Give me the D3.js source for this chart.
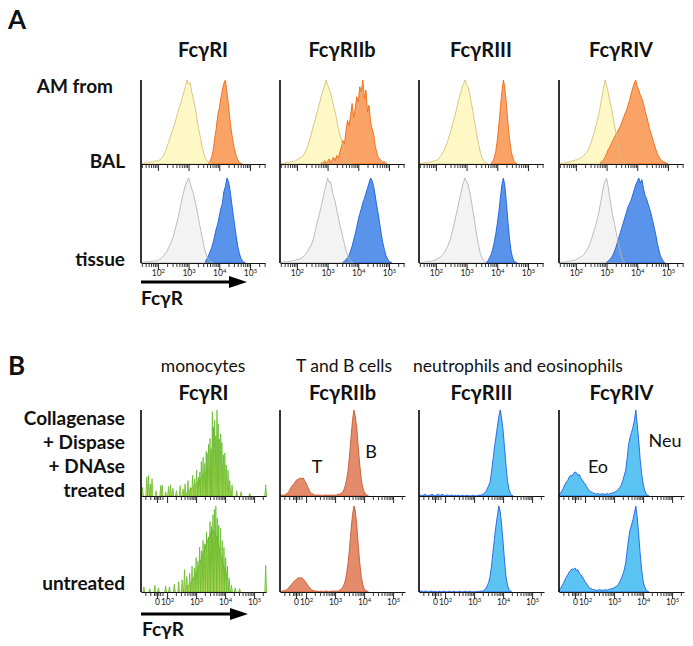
<!DOCTYPE html>
<html><head><meta charset="utf-8">
<script src="https://cdn.jsdelivr.net/npm/d3@7/dist/d3.min.js"></script>
<style>html,body{margin:0;padding:0;background:#fff;} svg{display:block;}</style>
</head><body>
<svg id="chart" width="693" height="646"></svg>
<script>
// ---------------- DATA ----------------
const receptors = ["FcγRI", "FcγRIIb", "FcγRIII", "FcγRIV"];
const rowLabelsA = ["AM from", "BAL", "tissue"];
const rowLabelsB = ["Collagenase", "+ Dispase", "+ DNAse", "treated", "untreated"];
const cellTypesB = ["monocytes", "T and B cells", "neutrophils and eosinophils"];
const majorExps = [2, 3, 4, 5];
const minorMults = [2, 3, 4, 5, 6, 7, 8, 9];
const bZeroTick = 1.65;                       // logicle display position of "0"
const bLinearTicks = [1.25, 1.42, 1.55, 1.60, 1.70, 1.76, 1.84];
const binStep = 0.05;                         // bin width in decades

// Panel A histograms (% of max), start = log10 position of first bin
const aRI_balCtrl  = {start: 1.50, v: [1,1,2,1,2,2,3,2,4,4,3,5,6,8,11,15,21,26,32,37,43,48,55,61,68,72,80,86,93,100,95,97,86,78,70,60,47,38,29,19,12,7,4,2,1,0]};
const aRI_balStain = {start: 3.65, v: [1,3,8,16,30,42,58,66,78,88,96,100,86,70,52,38,26,17,10,5,2,1,0]};
const aRI_tisCtrl  = {start: 1.50, v: [1,1,1,2,1,2,2,2,3,2,3,4,5,7,9,12,14,18,22,26,31,38,45,52,60,69,78,85,92,96,100,94,88,82,75,66,57,47,38,29,20,13,7,4,2,1,0]};
const aRI_tisStain = {start: 3.55, v: [2,5,9,13,18,24,32,40,46,55,64,70,84,90,100,96,86,72,58,45,32,20,12,6,3,1,0]};

const aRIIb_balCtrl  = {start: 1.50, v: [1,1,1,2,2,2,3,3,3,4,5,6,7,8,10,13,17,21,27,33,40,47,53,60,67,74,82,87,93,100,94,90,84,77,68,62,52,42,35,29,22,14,8,4,2,1,0]};
const aRIIb_balStain = {start: 2.80, v: [2,0,4,1,3,6,2,5,8,4,10,7,14,20,28,24,40,52,46,58,72,55,66,80,74,92,86,100,78,88,62,70,50,42,36,22,14,8,6,4,2,3,1,0]};
const aRIIb_tisCtrl  = {start: 1.50, v: [1,1,2,1,2,2,2,3,3,3,4,4,5,6,7,9,11,14,17,20,24,30,38,46,53,60,68,76,84,92,100,95,96,85,78,72,62,54,45,38,30,22,15,9,5,2,1,0]};
const aRIIb_tisStain = {start: 3.50, v: [1,2,4,6,9,14,20,27,34,42,51,58,64,71,76,82,88,94,100,97,90,80,68,58,46,34,24,16,9,5,2,1,0]};

const aRIII_balCtrl  = {start: 1.50, v: [1,1,1,2,1,2,2,3,3,4,4,5,7,9,12,15,19,24,29,35,41,48,55,62,70,77,84,90,96,100,94,92,84,74,64,53,42,31,22,14,8,4,2,1,0]};
const aRIII_balStain = {start: 3.80, v: [1,3,7,15,28,46,66,86,100,90,70,48,30,16,8,3,1,0]};
const aRIII_tisCtrl  = {start: 1.50, v: [1,1,1,1,2,2,2,2,3,3,4,5,6,7,9,11,14,17,21,26,32,39,47,55,63,72,80,88,95,100,96,92,84,74,63,52,40,29,19,11,6,3,1,0]};
const aRIII_tisStain = {start: 3.65, v: [1,3,6,10,16,24,34,46,60,76,92,100,90,70,48,28,14,6,2,1,0]};

const aRIV_balCtrl  = {start: 1.50, v: [1,1,1,2,2,2,3,3,4,4,5,5,6,7,8,10,12,14,17,21,26,32,38,45,52,60,70,80,90,100,94,86,76,68,58,48,38,28,18,10,4,2,1,0]};
const aRIV_balStain = {start: 2.80, v: [2,3,5,8,12,17,20,24,28,31,35,38,42,45,50,55,60,64,70,76,84,90,96,100,92,88,82,78,72,64,57,50,42,36,30,24,18,13,9,6,4,3,2,1,0]};
const aRIV_tisCtrl  = {start: 1.50, v: [1,1,1,1,2,2,2,3,3,3,4,5,6,7,8,10,12,15,18,22,27,33,39,45,52,60,70,80,90,96,100,90,78,66,56,48,38,30,20,12,6,2,0]};
const aRIV_tisStain = {start: 3.00, v: [1,2,4,6,9,13,18,24,30,36,42,48,54,60,66,70,74,80,86,92,96,100,94,98,88,80,76,70,64,58,50,42,34,24,16,9,5,2,0]};

// Panel B histograms
const bMonoTopFill = {start: 2.60, v: [2,3,3,5,7,9,10,12,14,15,17,19,22,24,26,28,30,31,32,32,31,30,28,26,24,22,20,18,15,12,10,6,2,0]};
const bMonoBotFill = {start: 2.55, v: [2,3,4,6,8,10,12,15,18,22,26,30,35,40,45,50,56,60,64,68,72,70,68,64,58,50,42,36,30,26,20,8,2,0]};
const bMonoTopSpikes = [[1.15,10],[1.30,22],[1.36,24],[1.42,14],[1.48,20],[1.62,6],[1.78,12],[1.83,13],[1.95,5],[2.05,11],[2.12,13],[2.20,9],[2.32,6],[2.45,12],[2.55,8],[2.62,14],[2.72,18],[2.80,10],[2.88,24],[2.95,20],[3.02,30],[3.08,22],[3.13,28],[3.18,40],[3.24,45],[3.30,38],[3.35,52],[3.38,50],[3.43,60],[3.48,67],[3.52,55],[3.56,98],[3.60,80],[3.64,88],[3.68,70],[3.72,100],[3.76,84],[3.80,66],[3.85,72],[3.89,62],[3.94,48],[3.99,50],[4.04,36],[4.10,30],[4.16,18],[4.24,13],[4.40,6],[4.55,5],[4.85,3],[5.40,13]];
const bMonoBotSpikes = [[1.20,6],[1.40,4],[1.58,8],[1.70,5],[1.95,7],[2.08,6],[2.25,9],[2.40,12],[2.52,14],[2.60,26],[2.68,18],[2.78,22],[2.86,30],[2.94,28],[3.00,40],[3.06,36],[3.12,52],[3.18,48],[3.24,60],[3.30,56],[3.36,70],[3.42,64],[3.48,82],[3.53,76],[3.58,90],[3.63,96],[3.68,100],[3.73,86],[3.78,78],[3.84,74],[3.90,60],[3.96,52],[4.02,40],[4.08,30],[4.14,16],[4.22,8],[4.35,5],[4.50,4],[5.40,31]];
const bTBTop = {start: 1.10, v: [0,1,1,1,2,3,5,8,11,13,15,18,19,20,21,20,21,18,15,11,7,4,3,2,1,1,1,1,1,0,1,1,1,1,1,1,1,1,1,1,2,2,3,4,7,12,20,30,48,69,88,100,92,78,56,36,20,10,5,2,1,0]};
const bTBBot = {start: 1.10, v: [0,1,1,2,2,3,5,7,9,11,13,14,16,17,16,17,15,13,11,8,6,4,2,2,1,1,1,0,1,1,0,1,1,1,0,1,1,1,1,1,1,2,3,5,8,13,22,34,52,72,90,100,94,76,54,34,18,9,4,2,1,0]};
const bNeuTop = {start: 1.10, v: [0,1,0,1,2,1,0,1,1,2,1,0,1,2,1,1,2,1,0,1,1,0,1,1,0,1,0,1,0,0,1,0,0,1,0,0,0,1,0,0,0,1,1,1,2,3,5,8,12,16,28,42,56,68,80,92,100,90,76,56,36,18,8,3,1,0]};
const bNeuBot = {start: 1.10, v: [0,1,1,0,1,1,0,0,1,1,0,1,0,0,1,0,0,1,0,0,0,1,0,0,1,0,0,0,1,0,0,0,1,0,0,1,0,0,0,0,1,0,1,1,1,2,4,7,11,18,30,46,62,76,88,100,94,78,58,36,18,8,3,1,0]};
const bEoNeuTop = {start: 1.10, v: [1,3,6,9,13,16,18,22,24,23,26,28,27,24,25,21,19,16,14,11,8,6,5,4,3,3,2,3,2,2,3,2,2,3,2,3,3,4,4,5,6,8,10,13,18,24,30,44,60,68,74,80,88,100,82,64,42,26,14,7,3,1,0]};
const bEoNeuBot = {start: 1.10, v: [2,4,7,10,14,17,20,23,25,27,26,28,25,26,22,20,18,15,12,10,7,5,4,3,3,2,2,2,3,2,2,2,3,2,3,3,4,4,5,6,7,9,12,16,20,26,34,48,62,72,78,84,92,100,86,66,44,26,13,6,3,1,0]};

// ---------------- STYLE / LAYOUT ----------------
const FONT = "Lato, 'Open Sans', 'DejaVu Sans', sans-serif";
const C = {
  yellowF: "#fdf8c6", yellowS: "#d6c07c",
  orangeF: "#f9a366", orangeS: "#ef6a14",
  grayF: "#f3f3f3", grayS: "#b5b5b5",
  blueF: "#5a94ea", blueS: "#1a5ee0",
  greenF: "#c8e272", greenS: "#5cb521",
  salmonF: "#e48b6b", salmonS: "#c65832",
  cyanF: "#5cc4f3", cyanS: "#2060e4"
};
const colLeft = [141, 280, 419, 559];
const aDomain = [1.45, 5.49], aWidth = 124;
const bDomain = [1.10, 5.41], bWidth = 125;
const aRows = [{base: 164, h: 84}, {base: 263, h: 85}];
const bRows = [{base: 496, h: 86}, {base: 592, h: 86}];

const svg = d3.select("#chart");
const root = svg.append("g").style("font-family", FONT).attr("fill", "#111");

function pts(h) { return h.v.map((v, i) => [h.start + i * binStep, v]); }

function histPath(g, h, x, y) {
  const area = d3.area().x(d => x(d[0])).y0(y(0)).y1(d => y(d[1]));
  return g.append("path").datum(pts(h)).attr("d", area).attr("stroke-linejoin", "round");
}
function drawHist(g, h, x, y, fill, stroke) {
  histPath(g, h, x, y).attr("fill", fill).attr("stroke", stroke).attr("stroke-width", 0.9);
}
// control under stained: control fill, stained fill+outline, control outline on top
function drawOverlay(g, ctrl, stain, x, y, cF, cS, sF, sS) {
  histPath(g, ctrl, x, y).attr("fill", cF).attr("stroke", "none");
  histPath(g, stain, x, y).attr("fill", sF).attr("stroke", sS).attr("stroke-width", 0.9);
  histPath(g, ctrl, x, y).attr("fill", "none").attr("stroke", cS).attr("stroke-width", 0.9);
}

function drawSpikes(g, spikes, x, y, fill, stroke) {
  g.selectAll(null).data(spikes).enter().append("path")
    .attr("d", d => `M${x(d[0]) - 0.9},${y(0)}L${x(d[0])},${y(d[1])}L${x(d[0]) + 0.9},${y(0)}Z`)
    .attr("fill", fill).attr("stroke", stroke).attr("stroke-width", 0.7);
}

function logTicks(domain) {
  const out = [];
  for (let e = 1; e <= 5; e++) for (const m of minorMults) {
    const p = Math.log10(m * Math.pow(10, e));
    if (p > domain[0] && p < domain[1]) out.push(p);
  }
  return out;
}

function drawAxis(g, x, base, minorTicks, majorTicks, labels) {
  const minor = d3.axisBottom(x).tickValues(minorTicks).tickSize(4).tickSizeOuter(0).tickFormat(() => "");
  const gm = g.append("g").attr("transform", `translate(0,${base})`).call(minor);
  gm.select(".domain").attr("stroke", "#111").attr("stroke-width", 1);
  gm.selectAll(".tick line").attr("stroke", "#222").attr("stroke-width", 0.9);
  const major = d3.axisBottom(x).tickValues(majorTicks.map(t => t.pos)).tickSize(7).tickSizeOuter(0).tickFormat(() => "");
  const gM = g.append("g").attr("transform", `translate(0,${base})`).call(major);
  gM.select(".domain").remove();
  gM.selectAll(".tick line").attr("stroke", "#222").attr("stroke-width", 1);
  if (labels) {
    gM.selectAll(".tick text").each(function(d, i) {
      const t = d3.select(this).text(null).attr("y", 13).attr("dy", null)
        .attr("font-size", 8.5).attr("fill", "#222").style("font-family", FONT);
      const tk = majorTicks[i];
      t.append("tspan").text(tk.base);
      if (tk.sup) t.append("tspan").attr("font-size", 6).attr("dy", -3.5).text(tk.sup);
    });
  }
}

// ---------------- PANEL A ----------------
const aHists = [
  [aRI_balCtrl, aRI_balStain, aRI_tisCtrl, aRI_tisStain],
  [aRIIb_balCtrl, aRIIb_balStain, aRIIb_tisCtrl, aRIIb_tisStain],
  [aRIII_balCtrl, aRIII_balStain, aRIII_tisCtrl, aRIII_tisStain],
  [aRIV_balCtrl, aRIV_balStain, aRIV_tisCtrl, aRIV_tisStain]
];
const aMajor = majorExps.map(e => ({pos: e, base: "10", sup: String(e)}));
const aMinor = logTicks(aDomain);

root.append("text").attr("x", 8).attr("y", 29).attr("font-size", 26).attr("font-weight", "bold").text("A");

receptors.forEach((r, c) => {
  const g = root.append("g").attr("transform", `translate(${colLeft[c]},0)`);
  const x = d3.scaleLinear().domain(aDomain).range([0, aWidth]);
  g.append("text").attr("x", aWidth / 2).attr("y", 57).attr("text-anchor", "middle")
    .attr("font-size", 20).attr("font-weight", "bold").text(r);
  aRows.forEach((row, ri) => {
    const y = d3.scaleLinear().domain([0, 100]).range([row.base, row.base - row.h]);
    const gg = g.append("g");
    if (ri === 0) {
      drawOverlay(gg, aHists[c][0], aHists[c][1], x, y, C.yellowF, C.yellowS, C.orangeF, C.orangeS);
    } else {
      drawOverlay(gg, aHists[c][2], aHists[c][3], x, y, C.grayF, C.grayS, C.blueF, C.blueS);
    }
    drawAxis(g, x, row.base, aMinor, aMajor, ri === 1);
  });
  g.append("line").attr("x1", 0).attr("x2", 0).attr("y1", aRows[0].base - aRows[0].h).attr("y2", aRows[1].base)
    .attr("stroke", "#000").attr("stroke-width", 1.6);
});

root.append("text").attr("x", 113).attr("y", 93).attr("text-anchor", "end").attr("font-size", 19).attr("font-weight", "bold").text(rowLabelsA[0]);
root.append("text").attr("x", 125).attr("y", 168).attr("text-anchor", "end").attr("font-size", 19).attr("font-weight", "bold").text(rowLabelsA[1]);
root.append("text").attr("x", 125).attr("y", 266).attr("text-anchor", "end").attr("font-size", 19).attr("font-weight", "bold").text(rowLabelsA[2]);

function arrow(y, x0, x1) {
  root.append("line").attr("x1", x0).attr("x2", x1 - 14).attr("y1", y).attr("y2", y).attr("stroke", "#000").attr("stroke-width", 3.2);
  root.append("path").attr("d", `M${x1 - 18},${y - 6}L${x1},${y}L${x1 - 18},${y + 6}Z`).attr("fill", "#000");
}
arrow(282, 141, 247);
root.append("text").attr("x", 141).attr("y", 305).attr("font-size", 19).attr("font-weight", "bold").text("FcγR");

// ---------------- PANEL B ----------------
root.append("text").attr("x", 8).attr("y", 375).attr("font-size", 26).attr("font-weight", "bold").text("B");
const subCenters = [203, 344, 518];
cellTypesB.forEach((t, i) => {
  root.append("text").attr("x", subCenters[i]).attr("y", 372).attr("text-anchor", "middle").attr("font-size", 17.5).text(t);
});
const bMajor = [{pos: bZeroTick, base: "0", sup: ""}].concat(majorExps.map(e => ({pos: e, base: "10", sup: String(e)})));
const bMinor = bLinearTicks.concat(logTicks([2.0, bDomain[1]]));

receptors.forEach((r, c) => {
  const g = root.append("g").attr("transform", `translate(${colLeft[c]},0)`);
  const x = d3.scaleLinear().domain(bDomain).range([0, bWidth]);
  g.append("text").attr("x", bWidth / 2).attr("y", 400).attr("text-anchor", "middle")
    .attr("font-size", 20).attr("font-weight", "bold").text(r);
  bRows.forEach((row, ri) => {
    const y = d3.scaleLinear().domain([0, 100]).range([row.base, row.base - row.h]);
    const gg = g.append("g");
    if (c === 0) {
      drawHist(gg, ri === 0 ? bMonoTopFill : bMonoBotFill, x, y, C.greenF, C.greenS);
      drawSpikes(gg, ri === 0 ? bMonoTopSpikes : bMonoBotSpikes, x, y, C.greenF, C.greenS);
    } else if (c === 1) {
      drawHist(gg, ri === 0 ? bTBTop : bTBBot, x, y, C.salmonF, C.salmonS);
    } else if (c === 2) {
      drawHist(gg, ri === 0 ? bNeuTop : bNeuBot, x, y, C.cyanF, C.cyanS);
    } else {
      drawHist(gg, ri === 0 ? bEoNeuTop : bEoNeuBot, x, y, C.cyanF, C.cyanS);
    }
    drawAxis(g, x, row.base, bMinor, bMajor, ri === 1);
  });
  g.append("line").attr("x1", 0).attr("x2", 0).attr("y1", bRows[0].base - bRows[0].h).attr("y2", bRows[1].base)
    .attr("stroke", "#000").attr("stroke-width", 1.6);
});

// population labels
[["T", 317, 473], ["B", 371, 458], ["Eo", 598, 473], ["Neu", 665, 447]].forEach(d => {
  root.append("text").attr("x", d[1]).attr("y", d[2]).attr("text-anchor", "middle").attr("font-size", 18).text(d[0]);
});

[[rowLabelsB[0], 425], [rowLabelsB[1], 449], [rowLabelsB[2], 473], [rowLabelsB[3], 497], [rowLabelsB[4], 590]].forEach(d => {
  root.append("text").attr("x", 125).attr("y", d[1]).attr("text-anchor", "end").attr("font-size", 19).attr("font-weight", "bold").text(d[0]);
});

arrow(614, 141, 248);
root.append("text").attr("x", 142).attr("y", 636).attr("font-size", 19).attr("font-weight", "bold").text("FcγR");
</script>
</body></html>
